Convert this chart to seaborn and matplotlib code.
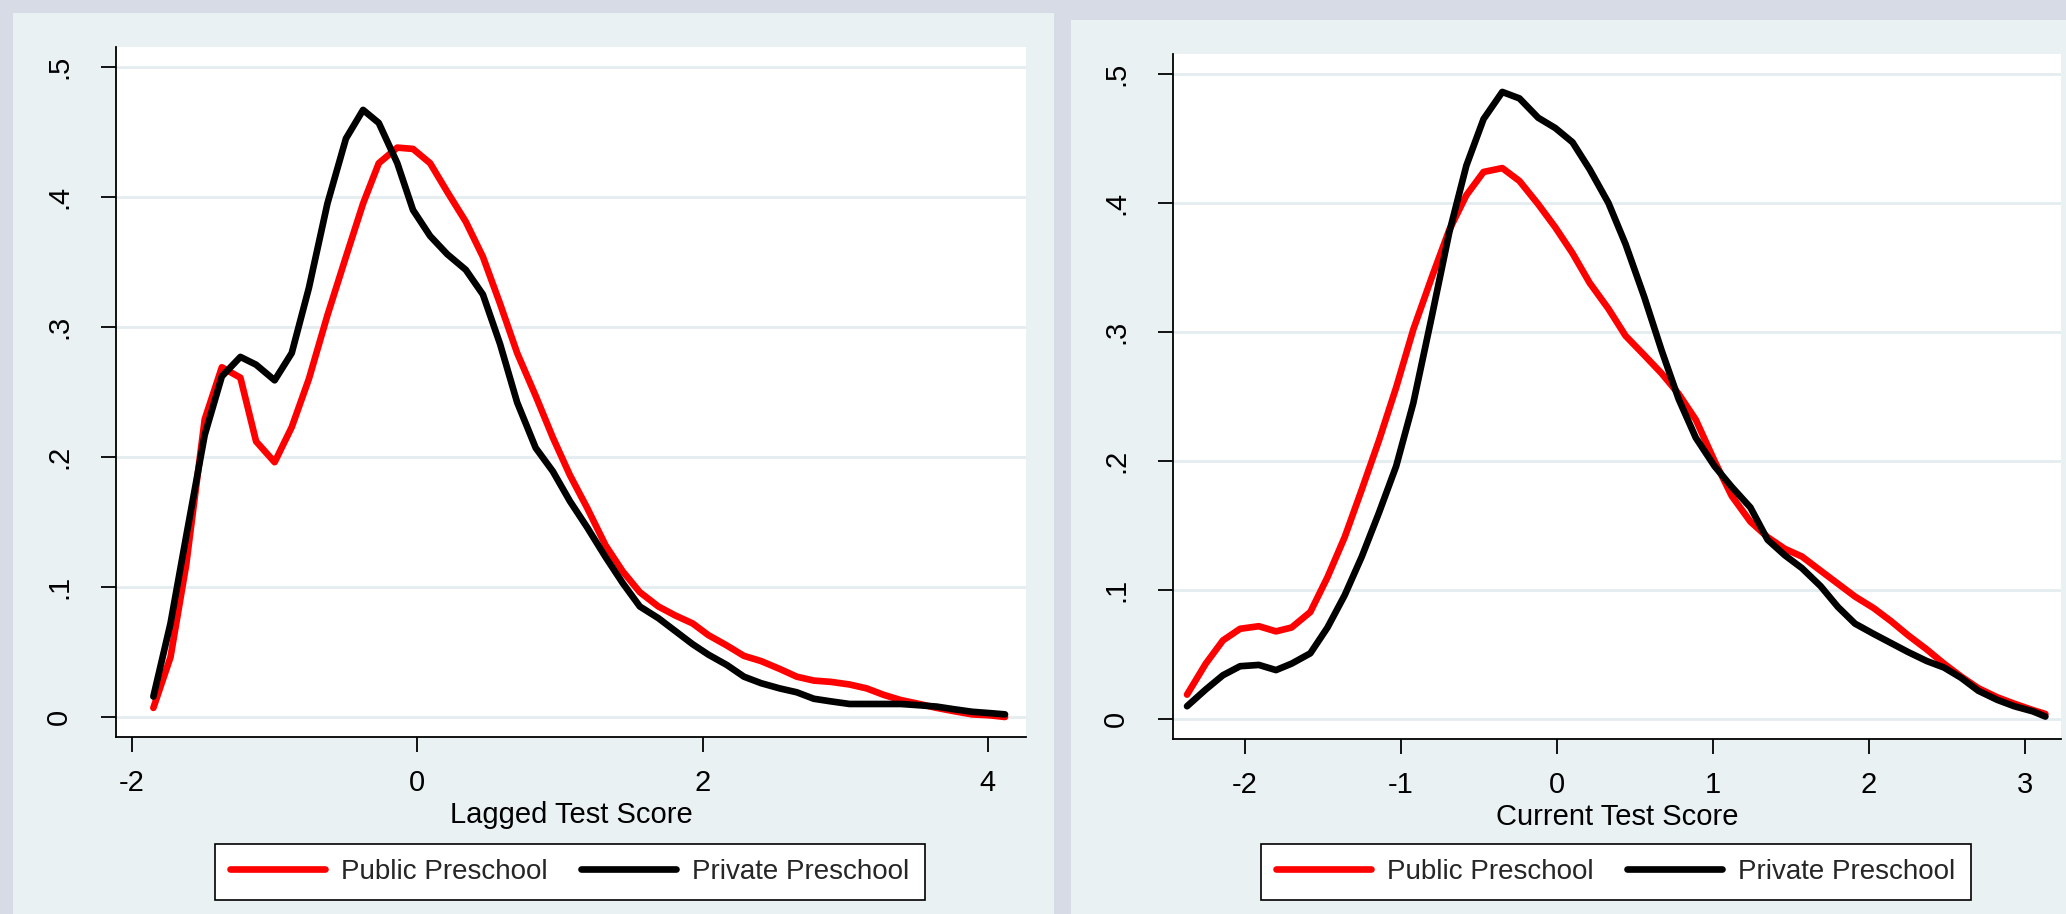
import matplotlib
matplotlib.use("Agg")
import matplotlib.pyplot as plt
from matplotlib.patches import Rectangle
import seaborn as sns


# the data (kernel densities)

lag_score = [-1.85, -1.73, -1.62, -1.49, -1.37, -1.24, -1.13, -1.00, -0.88, -0.76,
             -0.63, -0.50, -0.38, -0.27, -0.14, -0.03, 0.09, 0.21, 0.34, 0.46,
             0.58, 0.70, 0.83, 0.95, 1.07, 1.19, 1.32, 1.44, 1.56, 1.69,
             1.81, 1.93, 2.04, 2.17, 2.29, 2.41, 2.54, 2.66, 2.78, 2.90,
             3.03, 3.15, 3.27, 3.39, 3.52, 3.64, 3.76, 3.89, 4.01, 4.12]
lag_public = [0.007, 0.046, 0.117, 0.229, 0.269, 0.261, 0.212, 0.196, 0.223, 0.260,
              0.309, 0.354, 0.395, 0.426, 0.438, 0.437, 0.426, 0.404, 0.381, 0.354,
              0.318, 0.280, 0.247, 0.215, 0.186, 0.161, 0.132, 0.112, 0.096, 0.085,
              0.078, 0.072, 0.063, 0.055, 0.047, 0.043, 0.037, 0.031, 0.028, 0.027,
              0.025, 0.022, 0.017, 0.013, 0.010, 0.007, 0.0045, 0.002, 0.0013, 0.0]
lag_private = [0.0157, 0.072, 0.139, 0.217, 0.262, 0.277, 0.271, 0.259, 0.280, 0.330,
               0.395, 0.445, 0.467, 0.457, 0.426, 0.390, 0.370, 0.356, 0.344, 0.325,
               0.287, 0.242, 0.207, 0.189, 0.166, 0.146, 0.123, 0.103, 0.085, 0.076,
               0.066, 0.056, 0.048, 0.040, 0.031, 0.026, 0.022, 0.019, 0.014, 0.012,
               0.010, 0.010, 0.010, 0.010, 0.009, 0.008, 0.006, 0.004, 0.003, 0.002]

cur_score = [-2.37, -2.25, -2.14, -2.03, -1.91, -1.80, -1.70, -1.58, -1.47, -1.36,
             -1.25, -1.14, -1.03, -0.92, -0.80, -0.69, -0.58, -0.47, -0.35, -0.24,
             -0.12, -0.01, 0.10, 0.21, 0.33, 0.44, 0.56, 0.67, 0.78, 0.89,
             1.01, 1.12, 1.24, 1.35, 1.46, 1.57, 1.69, 1.80, 1.91, 2.03,
             2.14, 2.25, 2.37, 2.48, 2.59, 2.70, 2.82, 2.93, 3.05, 3.13]
cur_public = [0.019, 0.043, 0.061, 0.070, 0.072, 0.068, 0.071, 0.083, 0.110, 0.141,
              0.178, 0.216, 0.257, 0.302, 0.343, 0.379, 0.406, 0.424, 0.427, 0.417,
              0.399, 0.381, 0.361, 0.338, 0.318, 0.297, 0.282, 0.268, 0.252, 0.232,
              0.200, 0.173, 0.153, 0.141, 0.132, 0.126, 0.115, 0.105, 0.095, 0.086,
              0.076, 0.065, 0.054, 0.043, 0.033, 0.024, 0.017, 0.012, 0.007, 0.004]
cur_private = [0.010, 0.023, 0.034, 0.041, 0.042, 0.038, 0.043, 0.051, 0.071, 0.096,
               0.126, 0.160, 0.196, 0.245, 0.313, 0.377, 0.429, 0.465, 0.486, 0.481,
               0.466, 0.458, 0.447, 0.426, 0.400, 0.368, 0.327, 0.286, 0.248, 0.218,
               0.196, 0.180, 0.164, 0.139, 0.127, 0.117, 0.103, 0.087, 0.074, 0.066,
               0.059, 0.052, 0.045, 0.040, 0.032, 0.022, 0.015, 0.010, 0.006, 0.002]

y_ticks = [0, 0.1, 0.2, 0.3, 0.4, 0.5]
y_ticklabels = ["0", ".1", ".2", ".3", ".4", ".5"]
series_names = ["Public Preschool", "Private Preschool"]


sns.set_theme(style="white")
plt.rcParams["font.family"] = ["Liberation Sans", "DejaVu Sans"]

outer_bg = "#D6DBE5"
panel_bg = "#EAF1F3"
grid_col = "#E3EDF0"

fig = plt.figure(figsize=(20.66, 9.14), dpi=100)
fig.patch.set_facecolor(outer_bg)

W, H = 2066, 914
# light panels behind each graph (pixel boxes -> figure fractions)
for x0, y0, x1 in [(13, 13, 1054), (1071, 20, 2066)]:
    fig.patches.append(Rectangle((x0 / W, 0), (x1 - x0) / W, 1 - y0 / H,
                                 transform=fig.transFigure, facecolor=panel_bg,
                                 edgecolor="none", zorder=-10))

ax1 = fig.add_axes([116 / W, 1 - 737 / H, 910 / W, 690 / H])
ax2 = fig.add_axes([1173 / W, 1 - 739 / H, 888 / W, 685 / H])


def draw_panel(ax, x, public, private, xticks, xlim, xlabel, legend_x):
    ax.set_facecolor("white")
    for yv in y_ticks:
        ax.axhline(yv, color=grid_col, lw=2.0, zorder=0)

    sns.lineplot(x=x, y=public, ax=ax, color="#FF0000", lw=4.8, label=series_names[0])
    sns.lineplot(x=x, y=private, ax=ax, color="black", lw=4.8, label=series_names[1])

    ax.set_xlim(*xlim)
    ax.set_ylim(-0.0154, 0.5154)
    ax.set_xticks(xticks)
    ax.set_xticklabels([str(t) for t in xticks])
    ax.set_yticks(y_ticks)
    ax.set_yticklabels(y_ticklabels, rotation=90, va="center")
    ax.tick_params(axis="both", direction="out", length=11, width=1.3,
                   bottom=True, left=True,
                   color="black", labelsize=21, labelcolor="black")
    ax.tick_params(axis="x", pad=12)
    ax.tick_params(axis="y", pad=20)
    ax.set_xlabel(xlabel, fontsize=21, labelpad=3, color="black")
    ax.set_ylabel("")

    for side in ["top", "right"]:
        ax.spines[side].set_visible(False)
    for side in ["left", "bottom"]:
        ax.spines[side].set_color("black")
        ax.spines[side].set_linewidth(1.3)

    ax.legend(loc="center", bbox_to_anchor=(legend_x, 0.046),
              bbox_transform=fig.transFigure, ncol=2, fontsize=20,
              frameon=True, fancybox=False, edgecolor="black", facecolor="white",
              framealpha=1, handlelength=3.4, handletextpad=0.6,
              columnspacing=1.2, borderpad=0.55)
    ax.get_legend().get_frame().set_linewidth(1.2)


draw_panel(ax1, lag_score, lag_public, lag_private, [-2, 0, 2, 4],
           (-2.112, 4.267), "Lagged Test Score", 570 / W)
draw_panel(ax2, cur_score, cur_public, cur_private, [-2, -1, 0, 1, 2, 3],
           (-2.46, 3.23), "Current Test Score", 1616 / W)

fig.savefig("out.png", dpi=100, facecolor=fig.get_facecolor())
